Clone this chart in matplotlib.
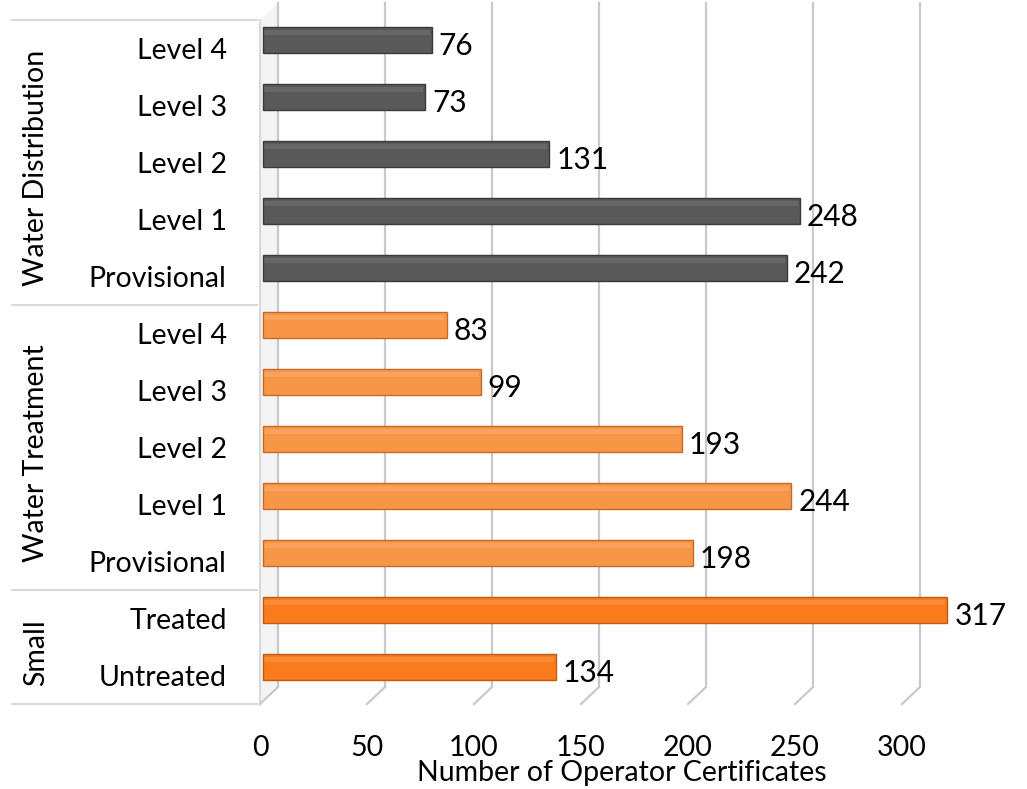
import matplotlib
matplotlib.use('Agg')
import matplotlib.pyplot as plt
import matplotlib.transforms as mtransforms

plt.rcParams['font.family'] = ['Lato', 'DejaVu Sans']

# data (top to bottom)
categories = ['Level 4', 'Level 3', 'Level 2', 'Level 1', 'Provisional',
              'Level 4', 'Level 3', 'Level 2', 'Level 1', 'Provisional',
              'Treated', 'Untreated']
values = [76, 73, 131, 248, 242,
          83, 99, 193, 244, 198,
          317, 134]
groups = ['Water Distribution', 'Water Treatment', 'Small']
group_sizes = [5, 5, 2]
xticks = [0, 50, 100, 150, 200, 250, 300]

group_colors = {
    'Water Distribution': ('#595959', '#3a3a3a', '#7a7a7a'),
    'Water Treatment': ('#F79646', '#c8692a', '#FBB27A'),
    'Small': ('#F97B1C', '#c25a10', '#FF9E55'),
}

fig = plt.figure(figsize=(10.27, 7.89), dpi=100)
W, H = 1027, 789
ax_left, ax_top, ax_bottom = 260, 20, 704
xmax = 330
scale = 2.14
ax_w = xmax * scale
ax = fig.add_axes([ax_left / W, (H - ax_bottom) / H, ax_w / W, (ax_bottom - ax_top) / H])
ax.set_xlim(0, xmax)
ax.set_ylim(len(values) - 0.5, -0.5)
for s in ax.spines.values():
    s.set_visible(False)

# 3D depth (pixels)
dx_px, dy_px = 18, 17
DX = dx_px / scale
DY = dy_px / (ax_bottom - ax_top)
mid = ax.transData + mtransforms.ScaledTranslation(dx_px / 2 / 100, dy_px / 2 / 100, fig.dpi_scale_trans)
xtr = ax.get_xaxis_transform()

grid_c = '#c9c9c9'
# wall
ax.fill([0, DX, DX, 0], [0, DY, 1 + DY, 1], transform=xtr, color='#f4f4f4', lw=0, clip_on=False, zorder=0)
ax.plot([0, 0], [0, 1], transform=xtr, color='#d9d9d9', lw=1.5, clip_on=False, zorder=1)
# back gridlines + floor stubs
for t in xticks:
    ax.plot([t + DX, t + DX], [DY, 1 + DY], transform=xtr, color=grid_c, lw=1.6, clip_on=False, zorder=1)
    ax.plot([t, t + DX], [0, DY], transform=xtr, color=grid_c, lw=1.6, clip_on=False, zorder=1)

# bars (start slightly inside the wall, like the 3d excel bars)
ypos = list(range(len(values)))
bar_groups = []
for g, n in zip(groups, group_sizes):
    bar_groups += [g] * n
bh = 0.44
x_start = -3
for y, v, g in zip(ypos, values, bar_groups):
    face, edge, hi = group_colors[g]
    b = ax.barh(y, v - x_start, left=x_start, height=bh, color=face, edgecolor=edge,
                linewidth=1.0, zorder=3, clip_on=False)
    b[0].set_transform(mid)
    h = ax.barh(y - 0.13, v - x_start - 1.5, left=x_start + 0.5, height=0.08, color=hi,
                linewidth=0, alpha=0.45, zorder=4, clip_on=False)
    h[0].set_transform(mid)
    ax.annotate(str(v), xy=(v, y), xycoords=mid, xytext=(7, -6), textcoords='offset pixels',
                ha='left', va='center', fontsize=21.5, color='black', zorder=5)

# y labels
ax.set_yticks(ypos)
ax.set_yticklabels(categories, fontsize=20.5)
ax.tick_params(axis='y', length=0, pad=24)

# x labels
ax.set_xticks(xticks)
ax.set_xticklabels([str(t) for t in xticks], fontsize=20.5)
ax.tick_params(axis='x', length=0, pad=22)
ax.set_xlabel('Number of Operator Certificates', fontsize=20.5)
ax.xaxis.set_label_coords(0.513, -0.082)

# category table lines and group labels
blend = mtransforms.blended_transform_factory(ax.transAxes, ax.transData)
x0 = (12 - ax_left) / ax_w
x1 = (257 - ax_left) / ax_w
start = -0.5
ax.plot([x0, x1], [start, start], transform=blend, color='#d9d9d9', lw=1.5, clip_on=False)
for g, n in zip(groups, group_sizes):
    end = start + n
    ax.plot([x0, x1], [end, end], transform=blend, color='#d9d9d9', lw=1.5, clip_on=False)
    ax.text((36 - ax_left) / ax_w, (start + end) / 2 + 0.1, g, transform=blend, rotation=90,
            ha='center', va='center', fontsize=20.5)
    start = end

fig.savefig('out.png', dpi=100, facecolor='white')
